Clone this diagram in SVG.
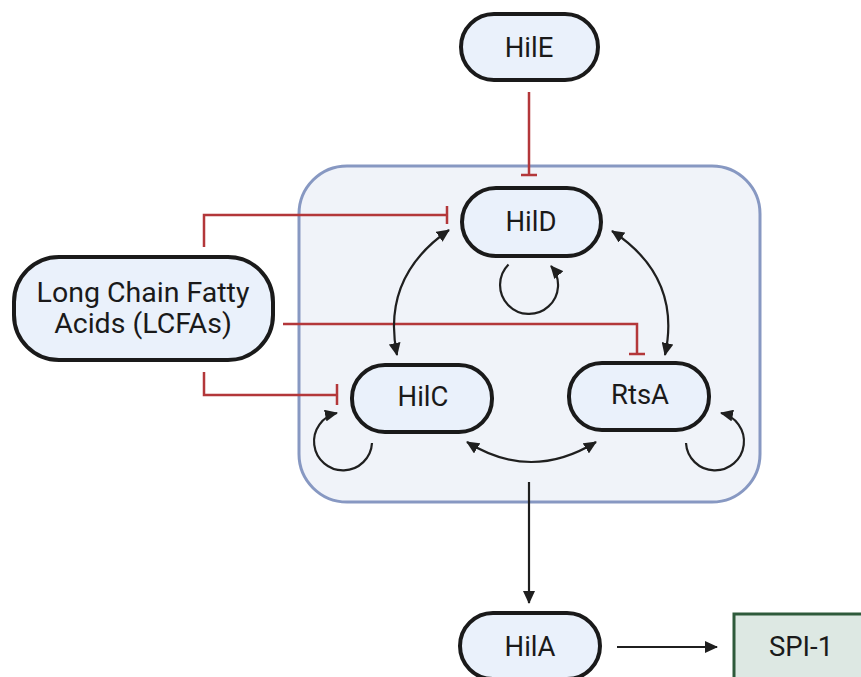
<svg xmlns="http://www.w3.org/2000/svg" width="861" height="677" viewBox="0 0 861 677">
<defs>
<marker id="ah" viewBox="0 0 13 12" refX="12" refY="6" markerWidth="13" markerHeight="12" markerUnits="userSpaceOnUse" orient="auto-start-reverse">
<path d="M0,0 L13,6 L0,12 z" fill="#1f1f1f"/>
</marker>
</defs>
<style>
.node{fill:#eaf1fb;stroke:#1a1a1a;stroke-width:4}
.lbl{font-family:Roboto,"Liberation Sans",sans-serif;font-size:27.5px;fill:#1a1a1a;text-anchor:middle}
.big{font-size:28.5px}
.act{fill:none;stroke:#1f1f1f;stroke-width:2.2}
.inh{fill:none;stroke:#b3373a;stroke-width:2.5}
</style>
<rect width="861" height="677" fill="#ffffff"/>
<g id="complex">
<rect x="299" y="166" width="461" height="336" rx="48" fill="#f0f3f9" stroke="#8798c2" stroke-width="3"/>
</g>
<g id="connectors">
<path class="inh" d="M529,92 V175 M521,175 H537"/>
<path class="inh" d="M204,247 V215 H447 M447,206 V224"/>
<path class="inh" d="M283,324 H637 V354 M629,354 H645"/>
<path class="inh" d="M204,372 V395 H337 M337,384 V405"/>
<path class="act" d="M449,230 Q381,277 397,355" marker-start="url(#ah)" marker-end="url(#ah)"/>
<path class="act" d="M612,231 Q682,277 665,355" marker-start="url(#ah)" marker-end="url(#ah)"/>
<path class="act" d="M467,442 Q531,482 596,442" marker-start="url(#ah)" marker-end="url(#ah)"/>
<path class="act" d="M508.5,264.5 A29,29 0 1 0 551,266" marker-end="url(#ah)"/>
<path class="act" d="M372,443 A29,29 0 1 1 337,413" marker-end="url(#ah)"/>
<path class="act" d="M686,443 A29,29 0 1 0 721,413" marker-end="url(#ah)"/>
<path class="act" d="M529,482 V603" marker-end="url(#ah)"/>
<path class="act" d="M617,647 H717" marker-end="url(#ah)"/>
</g>
<g id="HilE">
<rect class="node" x="461" y="14" width="137" height="66" rx="33"/>
<text class="lbl" x="529" y="57">HilE</text>
</g>
<g id="HilD">
<rect class="node" x="462" y="188" width="139" height="68" rx="34"/>
<text class="lbl" x="531" y="231">HilD</text>
</g>
<g id="LCFA">
<rect class="node" x="14" y="257" width="259" height="103" rx="45"/>
<text class="lbl big" x="143" y="302">Long Chain Fatty</text>
<text class="lbl big" x="143" y="333">Acids (LCFAs)</text>
</g>
<g id="HilC">
<rect class="node" x="352" y="365" width="140" height="67" rx="33"/>
<text class="lbl" x="423" y="406">HilC</text>
</g>
<g id="RtsA">
<rect class="node" x="569" y="363" width="140" height="67" rx="33"/>
<text class="lbl" x="640" y="404">RtsA</text>
</g>
<g id="HilA">
<rect class="node" x="460" y="613" width="140" height="66" rx="33"/>
<text class="lbl" x="530" y="656">HilA</text>
</g>
<g id="SPI-1">
<rect x="734" y="614" width="140" height="80" fill="#dde8e3" stroke="#2e5a3b" stroke-width="3"/>
<text class="lbl" x="801" y="656">SPI-1</text>
</g>
</svg>
